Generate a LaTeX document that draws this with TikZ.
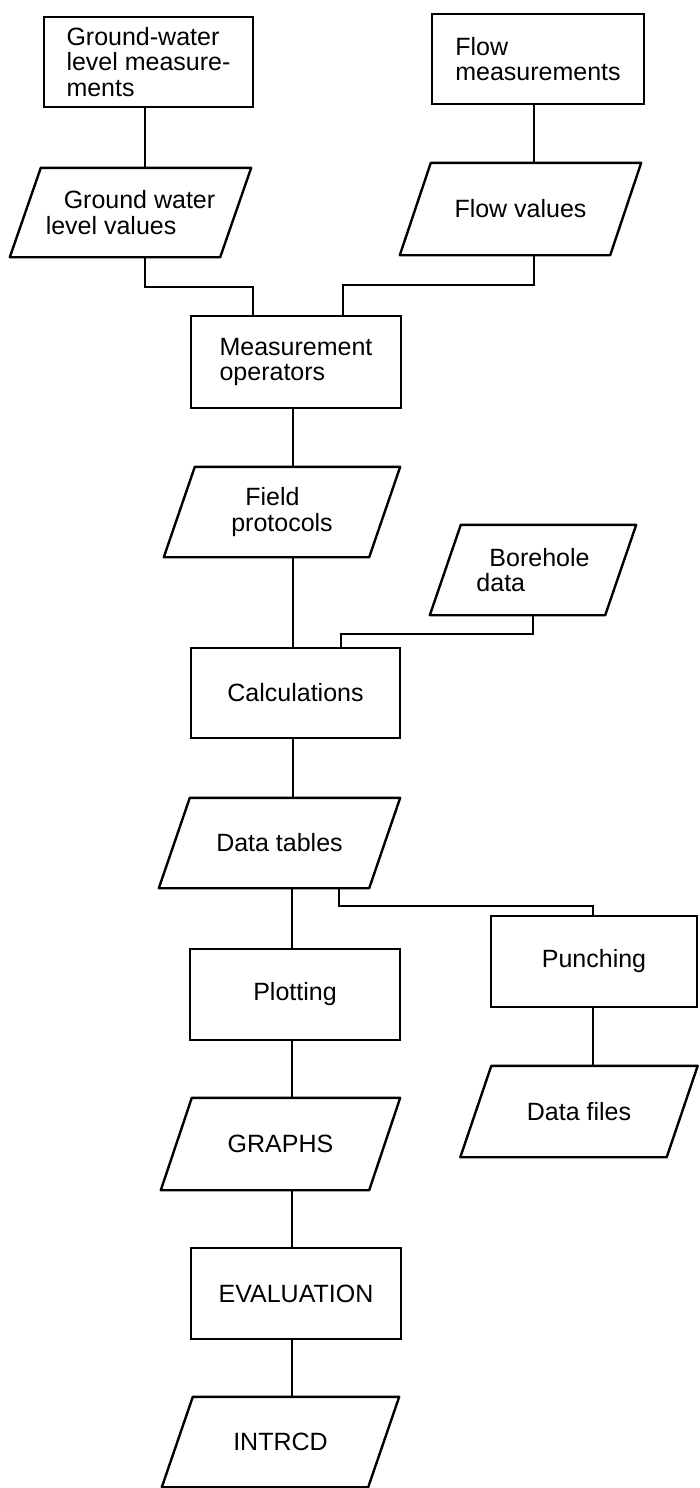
\documentclass[tikz,border=0pt]{standalone}
\usepackage{fontspec}
\setmainfont{Liberation Sans}
\begin{document}
\begin{tikzpicture}[x=1pt,y=-1pt,
  every node/.style={font=\fontsize{25}{25.5}\selectfont},
  procbox/.style={draw, line width=2.4pt, rectangle, align=left, inner sep=0pt},
  % data symbol: slanted outline drawn round an invisible rectangle
  datapara/.style={rectangle, align=left, inner sep=0pt,
    append after command={\pgfextra{\draw[line width=2.4pt, line join=round]
      (\tikzlastnode.south west) -- ([xshift=31pt]\tikzlastnode.north west)
      -- (\tikzlastnode.north east) -- ([xshift=-31pt]\tikzlastnode.south east)
      -- cycle;}}},
  link/.style={line width=1.1pt}]
\useasboundingbox (0,0) rectangle (699,1488);

% inputs
\node[procbox, minimum width=209pt, minimum height=90pt] (gwm) at (148.5,62)
  {Ground-water\\level measure-\\ments};
\node[datapara, minimum width=241pt, minimum height=89pt] (gwv) at (130.5,212.5)
  {\hspace*{18pt}Ground water\\level values};
\node[procbox, minimum width=212pt, minimum height=90pt] (flm) at (538,59)
  {Flow\\measurements};
\node[datapara, minimum width=241pt, minimum height=92pt] (flv) at (520.5,209)
  {Flow values};

% main chain
\node[procbox, minimum width=210pt, minimum height=92pt] (mop) at (296,362)
  {Measurement\\operators};
\node[datapara, minimum width=236pt, minimum height=90pt] (fpr) at (282,512)
  {\hspace*{14pt}Field\\protocols};
\node[datapara, minimum width=206pt, minimum height=90pt] (bhd) at (533,570)
  {\hspace*{13pt}Borehole\\data};
\node[procbox, minimum width=209pt, minimum height=90pt] (calc) at (295.5,693)
  {Calculations};
\node[datapara, minimum width=241pt, minimum height=90pt] (dtb) at (279.5,843)
  {Data tables};
\node[procbox, minimum width=210pt, minimum height=91pt] (plot) at (295,994.5)
  {Plotting};
\node[procbox, minimum width=206pt, minimum height=91pt] (punch) at (594,961.5)
  {Punching};
\node[datapara, minimum width=237pt, minimum height=91pt] (dfl) at (579,1111.5)
  {Data files};
\node[datapara, minimum width=239pt, minimum height=92pt] (gra) at (280.5,1144)
  {GRAPHS};
\node[procbox, minimum width=210pt, minimum height=91pt] (eval) at (296,1293.5)
  {EVALUATION};
\node[datapara, minimum width=237pt, minimum height=90pt] (intr) at (280.5,1442)
  {INTRCD};

% connector bends and columns
\coordinate (jA) at (145,287);
\coordinate (jB) at (253,287);
\coordinate (jC) at (534,285);
\coordinate (jD) at (343,285);
\coordinate (colM) at (293,0);
\coordinate (jE) at (533,634);
\coordinate (jF) at (341,634);
\coordinate (colN) at (292,0);
\coordinate (jG) at (339,906);
\coordinate (jH) at (593,906);

\draw[link] (gwm.south -| jA) -- (gwv.north -| jA);
\draw[link] (gwv.south -| jA) -- (jA) -- (jB) -- (mop.north -| jB);
\draw[link] (flm.south -| jC) -- (flv.north -| jC);
\draw[link] (flv.south -| jC) -- (jC) -- (jD) -- (mop.north -| jD);
\draw[link] (mop.south -| colM) -- (fpr.north -| colM);
\draw[link] (fpr.south -| colM) -- (calc.north -| colM);
\draw[link] (bhd.south -| jE) -- (jE) -- (jF) -- (calc.north -| jF);
\draw[link] (calc.south -| colM) -- (dtb.north -| colM);
\draw[link] (dtb.south -| colN) -- (plot.north -| colN);
\draw[link] (plot.south -| colN) -- (gra.north -| colN);
\draw[link] (gra.south -| colN) -- (eval.north -| colN);
\draw[link] (eval.south -| colN) -- (intr.north -| colN);
\draw[link] (dtb.south -| jG) -- (jG) -- (jH) -- (punch.north -| jH);
\draw[link] (punch.south -| jH) -- (dfl.north -| jH);
\end{tikzpicture}
\end{document}
